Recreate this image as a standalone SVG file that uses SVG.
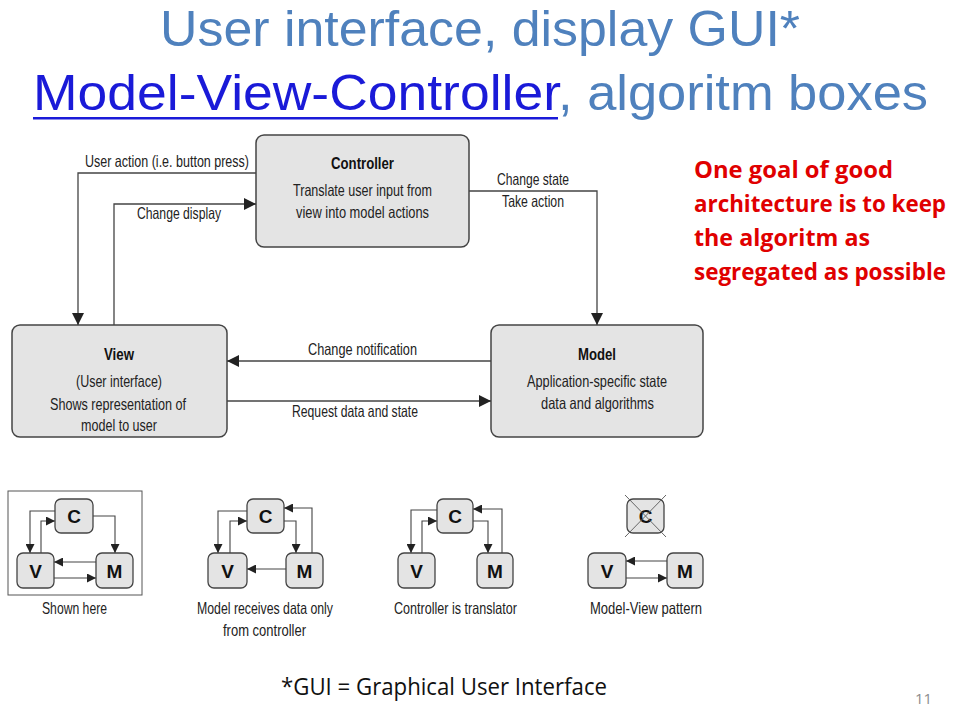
<svg xmlns="http://www.w3.org/2000/svg" width="960" height="707" viewBox="0 0 960 707">
<style>
.title{font-family:"Liberation Sans","Open Sans",sans-serif;font-size:50px;fill:#4f81bd}
.link{fill:#1a1ad8}
.red{font-family:"Open Sans","Liberation Sans",sans-serif;font-size:23px;font-weight:bold;fill:#e00000}
.bk{font-family:"Liberation Sans",sans-serif;font-size:16.5px;fill:#222}
.bb{font-family:"Liberation Sans",sans-serif;font-size:17px;font-weight:bold;fill:#111}
.let{font-family:"Liberation Sans",sans-serif;font-size:19px;font-weight:bold;fill:#111;text-anchor:middle}
.box{fill:#e4e4e4;stroke:#444;stroke-width:1.5}
.sbox{fill:#e4e4e4;stroke:#444;stroke-width:1.3}
.ln{fill:none;stroke:#444;stroke-width:1.3}
.sl{fill:none;stroke:#444;stroke-width:1.1}
.foot{font-family:"Open Sans","Liberation Sans",sans-serif;font-size:23px;fill:#111}
</style>
<defs>
<marker id="a" markerUnits="userSpaceOnUse" markerWidth="12" markerHeight="12" viewBox="0 0 12 12" refX="12" refY="6" orient="auto">
<path d="M0,0 L12,6 L0,12 Z" fill="#222"/>
</marker>
<marker id="s" markerUnits="userSpaceOnUse" markerWidth="9" markerHeight="9" viewBox="0 0 9 9" refX="9" refY="4.5" orient="auto">
<path d="M0,0 L9,4.5 L0,9 Z" fill="#222"/>
</marker>
</defs>
<rect width="960" height="707" fill="#fff"/>

<g id="title">
<text class="title" x="160" y="46" textLength="640" lengthAdjust="spacingAndGlyphs">User interface, display GUI*</text>
<text class="title" x="33" y="110"><tspan class="link" textLength="525" lengthAdjust="spacingAndGlyphs">Model-View-Controller</tspan><tspan textLength="370" lengthAdjust="spacingAndGlyphs">, algoritm boxes</tspan></text>
<rect x="33" y="117" width="525" height="2.5" fill="#1a1ad8"/>
</g>

<g id="note">
<text class="red" x="694" y="178" textLength="199" lengthAdjust="spacingAndGlyphs">One goal of good</text>
<text class="red" x="694" y="212" textLength="252" lengthAdjust="spacingAndGlyphs">architecture is to keep</text>
<text class="red" x="694" y="246" textLength="176" lengthAdjust="spacingAndGlyphs">the algoritm as</text>
<text class="red" x="694" y="280" textLength="252" lengthAdjust="spacingAndGlyphs">segregated as possible</text>
</g>

<g id="controller">
<rect class="box" x="256" y="135" width="213" height="112" rx="8"/>
<text class="bb" x="331" y="169" textLength="63" lengthAdjust="spacingAndGlyphs">Controller</text>
<text class="bk" x="293" y="196" textLength="139" lengthAdjust="spacingAndGlyphs">Translate user input from</text>
<text class="bk" x="296" y="218" textLength="133" lengthAdjust="spacingAndGlyphs">view into model actions</text>
</g>

<g id="view">
<rect class="box" x="12" y="325" width="215" height="112" rx="8"/>
<text class="bb" x="104" y="360" textLength="30" lengthAdjust="spacingAndGlyphs">View</text>
<text class="bk" x="76" y="387" textLength="86" lengthAdjust="spacingAndGlyphs">(User interface)</text>
<text class="bk" x="50" y="410" textLength="136" lengthAdjust="spacingAndGlyphs">Shows representation of</text>
<text class="bk" x="81" y="431" textLength="76" lengthAdjust="spacingAndGlyphs">model to user</text>
</g>

<g id="model">
<rect class="box" x="491" y="325" width="212" height="112" rx="8"/>
<text class="bb" x="578" y="360" textLength="38" lengthAdjust="spacingAndGlyphs">Model</text>
<text class="bk" x="527" y="387" textLength="140" lengthAdjust="spacingAndGlyphs">Application-specific state</text>
<text class="bk" x="541" y="409" textLength="113" lengthAdjust="spacingAndGlyphs">data and algorithms</text>
</g>

<g id="connectors">
<path class="ln" d="M256,173 H78 V325" marker-end="url(#a)"/>
<path class="ln" d="M114,325 V204 H256" marker-end="url(#a)"/>
<path class="ln" d="M469,191 H597 V325" marker-end="url(#a)"/>
<path class="ln" d="M491,361 H227" marker-end="url(#a)"/>
<path class="ln" d="M227,401 H491" marker-end="url(#a)"/>
<text class="bk" x="85" y="167" textLength="164" lengthAdjust="spacingAndGlyphs">User action (i.e. button press)</text>
<text class="bk" x="137" y="219" textLength="84" lengthAdjust="spacingAndGlyphs">Change display</text>
<text class="bk" x="497" y="185" textLength="72" lengthAdjust="spacingAndGlyphs">Change state</text>
<text class="bk" x="502" y="207" textLength="62" lengthAdjust="spacingAndGlyphs">Take action</text>
<text class="bk" x="308" y="355" textLength="109" lengthAdjust="spacingAndGlyphs">Change notification</text>
<text class="bk" x="292" y="417" textLength="126" lengthAdjust="spacingAndGlyphs">Request data and state</text>

<path class="sl" d="M55,511 H30 V553" marker-end="url(#s)"/>
<path class="sl" d="M41,553 V521 H55" marker-end="url(#s)"/>
<path class="sl" d="M93,516 H115 V553" marker-end="url(#s)"/>
<path class="sl" d="M96,562 H54" marker-end="url(#s)"/>
<path class="sl" d="M54,578 H96" marker-end="url(#s)"/>

<path class="sl" d="M247,511 H218 V553" marker-end="url(#s)"/>
<path class="sl" d="M230,553 V521 H247" marker-end="url(#s)"/>
<path class="sl" d="M284,521 H296 V553" marker-end="url(#s)"/>
<path class="sl" d="M312,553 V508 H284" marker-end="url(#s)"/>
<path class="sl" d="M286,569 H247" marker-end="url(#s)"/>

<path class="sl" d="M437,510 H411 V553" marker-end="url(#s)"/>
<path class="sl" d="M422,553 V521 H437" marker-end="url(#s)"/>
<path class="sl" d="M473,521 H488 V553" marker-end="url(#s)"/>
<path class="sl" d="M502,553 V509 H473" marker-end="url(#s)"/>

<path class="sl" d="M667,561 H626" marker-end="url(#s)"/>
<path class="sl" d="M626,578 H667" marker-end="url(#s)"/>
</g>

<g id="panel1">
<rect x="8" y="491" width="134" height="104" fill="none" stroke="#555" stroke-width="1"/>
<rect class="sbox" x="55" y="499" width="38" height="34" rx="6"/><text class="let" x="74" y="523">C</text>
<rect class="sbox" x="17" y="553" width="37" height="35" rx="6"/><text class="let" x="35.5" y="578">V</text>
<rect class="sbox" x="96" y="553" width="37" height="35" rx="6"/><text class="let" x="114.5" y="578">M</text>
<text class="bk" x="42" y="614" textLength="65" lengthAdjust="spacingAndGlyphs">Shown here</text>
</g>

<g id="panel2">
<rect class="sbox" x="247" y="499" width="37" height="34" rx="6"/><text class="let" x="265.5" y="523">C</text>
<rect class="sbox" x="208" y="553" width="39" height="35" rx="6"/><text class="let" x="227.5" y="578">V</text>
<rect class="sbox" x="286" y="553" width="37" height="35" rx="6"/><text class="let" x="304.5" y="578">M</text>
<text class="bk" x="197" y="614" textLength="136" lengthAdjust="spacingAndGlyphs">Model receives data only</text>
<text class="bk" x="223" y="636" textLength="83" lengthAdjust="spacingAndGlyphs">from controller</text>
</g>

<g id="panel3">
<rect class="sbox" x="437" y="499" width="36" height="34" rx="6"/><text class="let" x="455" y="523">C</text>
<rect class="sbox" x="398" y="553" width="37" height="35" rx="6"/><text class="let" x="416.5" y="578">V</text>
<rect class="sbox" x="477" y="553" width="36" height="35" rx="6"/><text class="let" x="495" y="578">M</text>
<text class="bk" x="394" y="614" textLength="123" lengthAdjust="spacingAndGlyphs">Controller is translator</text>
</g>

<g id="panel4">
<rect class="sbox" x="627" y="499" width="37" height="34" rx="6"/><text class="let" x="645.5" y="523">C</text>
<path d="M625,495 L666,537 M666,495 L625,537" stroke="#666" stroke-width="1"/>
<rect class="sbox" x="588" y="553" width="38" height="35" rx="6"/><text class="let" x="607" y="578">V</text>
<rect class="sbox" x="667" y="553" width="36" height="35" rx="6"/><text class="let" x="685" y="578">M</text>
<text class="bk" x="590" y="614" textLength="112" lengthAdjust="spacingAndGlyphs">Model-View pattern</text>
</g>

<g id="footer">
<text class="foot" x="281" y="695" textLength="326" lengthAdjust="spacingAndGlyphs">*GUI = Graphical User Interface</text>
<text x="915" y="704" font-family="Open Sans, Liberation Sans, sans-serif" font-size="15" fill="#8c8c8c">11</text>
</g>
</svg>
